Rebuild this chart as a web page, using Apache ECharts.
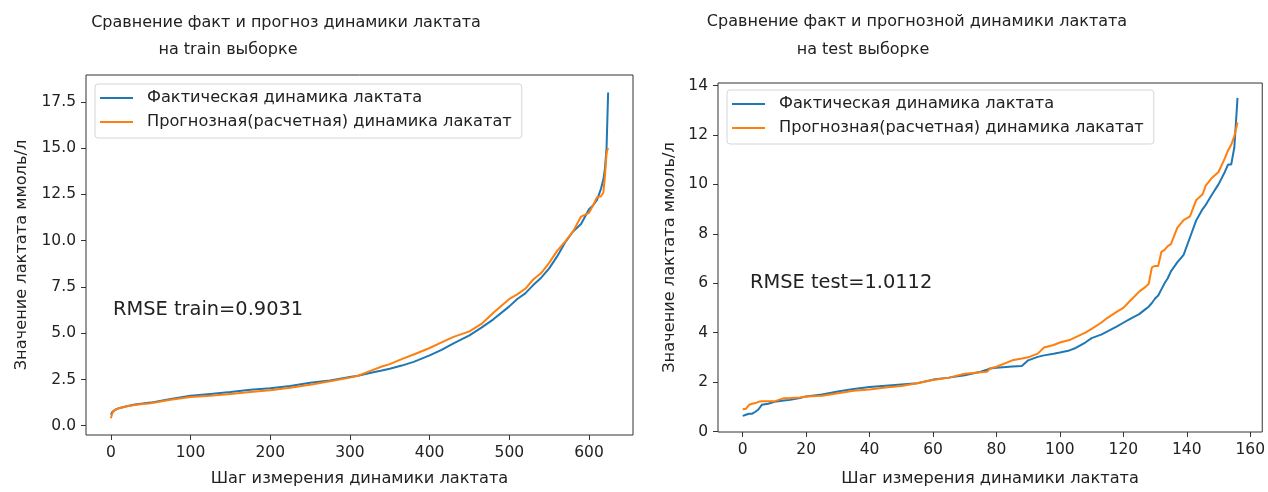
<!DOCTYPE html>
<html>
<head>
<meta charset="utf-8">
<script src="https://cdn.jsdelivr.net/npm/echarts@6/dist/echarts.min.js"></script>
<style>
  html, body { margin: 0; padding: 0; background: #fff; }
  #chart { width: 1268px; height: 492px; }
</style>
</head>
<body>
<div id="chart"></div>
<script>
// train выборка
const trainStep = [0, 2, 5, 10, 20, 30, 40, 50, 75, 100, 125, 150, 175, 200, 225, 250, 275, 300, 310, 325, 340, 350, 365, 380, 400, 415, 430, 450, 465, 480, 500, 510, 520, 530, 540, 550, 560, 570, 580, 590, 600, 605, 610, 615, 618, 620, 622, 623, 624]
const trainFact = [0.6, 0.75, 0.85, 0.95, 1.05, 1.15, 1.2, 1.25, 1.45, 1.62, 1.72, 1.82, 1.95, 2.02, 2.15, 2.32, 2.45, 2.63, 2.7, 2.85, 2.98, 3.08, 3.25, 3.45, 3.8, 4.1, 4.45, 4.88, 5.3, 5.75, 6.45, 6.85, 7.15, 7.6, 8.0, 8.5, 9.15, 9.9, 10.5, 10.9, 11.7, 11.9, 12.2, 12.8, 13.3, 13.9, 15.0, 16.5, 18.0]
const trainPred = [0.4, 0.7, 0.85, 0.95, 1.05, 1.12, 1.18, 1.22, 1.4, 1.55, 1.62, 1.72, 1.82, 1.92, 2.05, 2.22, 2.4, 2.6, 2.7, 2.95, 3.2, 3.33, 3.6, 3.85, 4.2, 4.5, 4.8, 5.1, 5.5, 6.1, 6.85, 7.1, 7.4, 7.9, 8.25, 8.8, 9.45, 9.95, 10.5, 11.3, 11.5, 11.9, 12.35, 12.4, 12.6, 13.5, 14.7, 14.9, 15.0]

// test выборка
const testStep = [0, 1, 2, 3, 4, 5, 6, 8, 10, 13, 15, 18, 20, 25, 30, 35, 40, 45, 50, 55, 60, 65, 70, 75, 77, 78, 80, 85, 88, 90, 93, 95, 98, 100, 103, 105, 108, 110, 113, 115, 118, 120, 122, 125, 127, 128, 129, 130, 131, 132, 133, 134, 135, 137, 139, 141, 143, 145, 146, 148, 150, 152, 153, 154, 155, 156]
const testFact = [0.63, 0.68, 0.72, 0.72, 0.8, 0.9, 1.08, 1.12, 1.2, 1.25, 1.28, 1.35, 1.42, 1.5, 1.62, 1.72, 1.8, 1.85, 1.9, 1.95, 2.1, 2.18, 2.28, 2.42, 2.5, 2.55, 2.58, 2.63, 2.65, 2.88, 3.02, 3.08, 3.15, 3.2, 3.28, 3.38, 3.6, 3.78, 3.92, 4.05, 4.25, 4.4, 4.55, 4.75, 4.95, 5.05, 5.2, 5.38, 5.5, 5.75, 6.0, 6.2, 6.48, 6.84, 7.15, 7.85, 8.55, 9.0, 9.17, 9.6, 10.0, 10.5, 10.8, 10.8, 11.5, 13.5]
const testPred = [0.9, 0.92, 1.08, 1.12, 1.15, 1.2, 1.22, 1.22, 1.22, 1.35, 1.36, 1.38, 1.42, 1.45, 1.55, 1.65, 1.7, 1.78, 1.84, 1.95, 2.08, 2.18, 2.34, 2.4, 2.42, 2.55, 2.62, 2.88, 2.95, 3.0, 3.15, 3.4, 3.5, 3.6, 3.7, 3.82, 4.0, 4.15, 4.4, 4.6, 4.85, 5.0, 5.27, 5.66, 5.85, 5.98, 6.64, 6.7, 6.7, 7.27, 7.35, 7.5, 7.58, 8.24, 8.55, 8.7, 9.37, 9.6, 9.96, 10.27, 10.5, 11.05, 11.37, 11.6, 11.95, 12.5]

// тики
const trainXTicks = [0, 100, 200, 300, 400, 500, 600]
const trainYTicks = [0, 2.5, 5, 7.5, 10, 12.5, 15, 17.5]
const testXTicks = [0, 20, 40, 60, 80, 100, 120, 140, 160]
const testYTicks = [0, 2, 4, 6, 8, 10, 12, 14]

const factName = 'Фактическая динамика лактата'
const predName = 'Прогнозная(расчетная) динамика лакатат'

const FONT = 'DejaVu Sans'
const TXT = '#222'
const BLUE = '#1f77b4'
const ORANGE = '#ff7f0e'

const pairs = (xs, ys) => xs.map((x, i) => [x, ys[i]])

const makeX = (min, max, ticks, idx, gap) => ({
  type: 'value',
  gridIndex: idx,
  min: min,
  max: max,
  name: 'Шаг измерения динамики лактата',
  nameLocation: 'middle',
  nameGap: gap,
  nameTextStyle: { fontFamily: FONT, fontSize: 16.2, color: TXT },
  axisLine: { show: false, onZero: false },
  axisTick: { show: true, length: 5, customValues: ticks, lineStyle: { color: '#333' } },
  axisLabel: { customValues: ticks, margin: 10, fontFamily: FONT, fontSize: 15.5, color: TXT },
  splitLine: { show: false }
})

const makeY = (min, max, ticks, idx, fmt, gap) => ({
  type: 'value',
  gridIndex: idx,
  min: min,
  max: max,
  name: 'Значение лактата ммоль/л',
  nameLocation: 'middle',
  nameGap: gap,
  nameTextStyle: { fontFamily: FONT, fontSize: 16.2, color: TXT },
  axisLine: { show: false, onZero: false },
  axisTick: { show: true, length: 5, customValues: ticks, lineStyle: { color: '#333' } },
  axisLabel: { customValues: ticks, margin: 10, fontFamily: FONT, fontSize: 15.5, color: TXT, formatter: fmt },
  splitLine: { show: false }
})

const makeLegend = (left, top) => ({
  orient: 'vertical',
  left: left,
  top: top,
  data: [factName, predName],
  icon: 'rect',
  itemWidth: 33,
  itemHeight: 2,
  itemGap: 4,
  padding: [4, 10, 6, 5],
  backgroundColor: 'rgba(255,255,255,0.8)',
  borderColor: '#d6d6d6',
  borderWidth: 1,
  borderRadius: 3,
  textStyle: { fontFamily: FONT, fontSize: 16.2, color: TXT, lineHeight: 20, padding: [0, 0, 0, 9] }
})

const line = (name, data, color, idx) => ({
  name: name,
  type: 'line',
  xAxisIndex: idx,
  yAxisIndex: idx,
  data: data,
  showSymbol: false,
  symbol: 'none',
  color: color,
  lineStyle: { color: color, width: 2 },
  animation: false
})

const txt = (x, y, text, size, align) => ({
  type: 'text',
  x: x,
  y: y,
  style: {
    text: text,
    fontFamily: FONT,
    fontSize: size,
    fill: TXT,
    textAlign: align,
    textVerticalAlign: 'middle'
  }
})

const chart = echarts.init(document.getElementById('chart'))
chart.setOption({
  backgroundColor: '#fff',
  animation: false,
  grid: [
    { left: 86, top: 75, width: 547, height: 363, show: true, borderColor: '#333', borderWidth: 1, backgroundColor: 'transparent' },
    { left: 718, top: 83, width: 547, height: 360, show: true, borderColor: '#333', borderWidth: 1, backgroundColor: 'transparent' }
  ],
  xAxis: [
    makeX(-31.2, 655.2, trainXTicks, 0, 36),
    makeX(-7.8, 163.8, testXTicks, 1, 39)
  ],
  yAxis: [
    makeY(-0.5, 18.95, trainYTicks, 0, v => v.toFixed(1), 56),
    makeY(-0.02, 14.1, testYTicks, 1, v => String(v), 40)
  ],
  legend: [makeLegend(95, 84), makeLegend(727, 90)],
  series: [
    line(factName, pairs(trainStep, trainFact), BLUE, 0),
    line(predName, pairs(trainStep, trainPred), ORANGE, 0),
    line(factName, pairs(testStep, testFact), BLUE, 1),
    line(predName, pairs(testStep, testPred), ORANGE, 1)
  ],
  graphic: [
    txt(286, 23, 'Сравнение факт и прогноз динамики лактата', 16, 'center'),
    txt(228, 50, 'на train выборке', 16, 'center'),
    txt(917, 22, 'Сравнение факт и прогнозной динамики лактата', 16, 'center'),
    txt(863, 50, 'на test выборке', 16, 'center'),
    txt(113, 310, 'RMSE train=0.9031', 19.4, 'left'),
    txt(750, 283, 'RMSE test=1.0112', 19.4, 'left')
  ]
})
</script>
</body>
</html>
